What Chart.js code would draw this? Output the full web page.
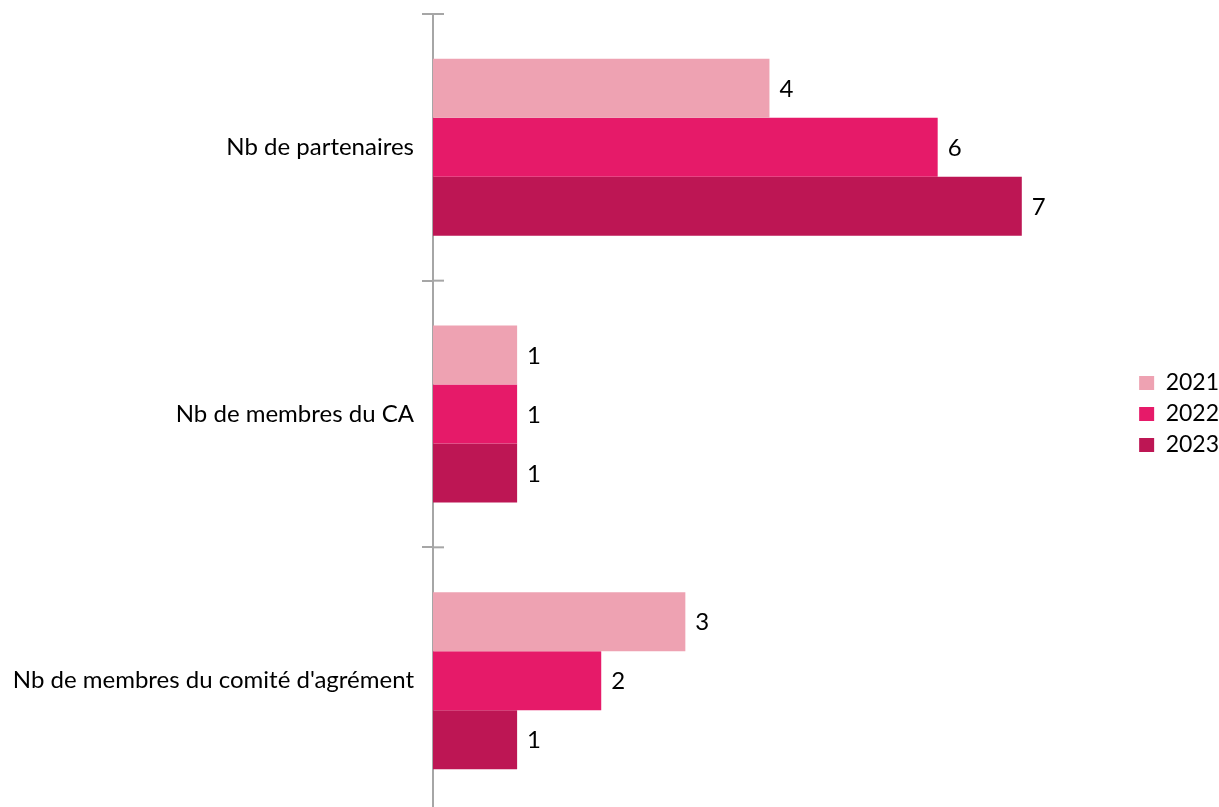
<!DOCTYPE html>
<html lang="fr">
<head>
  <meta charset="UTF-8">
  <title>Partenaires et membres</title>
  <script src="https://cdn.jsdelivr.net/npm/chart.js"></script>
  <style>
    html, body { margin: 0; padding: 0; background: #fff; overflow: hidden; }
    #cadre { position: relative; width: 1219px; height: 814px; }
  </style>
</head>
<body>
  <div id="cadre"><canvas id="grafica"></canvas></div>

  <script>
    // Données
    const categories = ["Nb de partenaires", "Nb de membres du CA", "Nb de membres du comité d'agrément"];
    const annees = ["2021", "2022", "2023"];
    const valeurs2021 = [4, 1, 3];
    const valeurs2022 = [6, 1, 2];
    const valeurs2023 = [7, 1, 1];
    const couleurs = ["#EEA2B2", "#E61A69", "#BD1654"];

    const police = "Lato, 'Open Sans', sans-serif";
    const gris = "#A6A6A6";

    // Étiquettes de valeur à droite des barres
    const etiquettes = {
      id: 'etiquettes',
      afterDatasetsDraw(chart) {
        const ctx = chart.ctx;
        ctx.save();
        ctx.font = "24px " + police;
        ctx.fillStyle = "#000";
        ctx.textBaseline = "middle";
        chart.data.datasets.forEach((ds, i) => {
          chart.getDatasetMeta(i).data.forEach((bar, j) => {
            ctx.fillText(ds.data[j], bar.x + 10, bar.y + 1);
          });
        });
        ctx.restore();
      }
    };

    // Petits traits qui croisent l'axe vertical
    const traits = {
      id: 'traits',
      afterDraw(chart) {
        const y = chart.scales.y;
        const ctx = chart.ctx;
        const x0 = chart.chartArea.left;
        const n = categories.length;
        ctx.save();
        ctx.strokeStyle = gris;
        ctx.lineWidth = 2;
        for (let i = 0; i <= n; i++) {
          const py = y.getPixelForValue(i - 0.5);
          ctx.beginPath();
          ctx.moveTo(x0, py);
          ctx.lineTo(x0 + 11, py);
          ctx.stroke();
        }
        ctx.restore();
      }
    };

    new Chart(document.getElementById("grafica"), {
      type: 'bar',
      data: {
        labels: categories,
        datasets: [
          { label: annees[0], data: valeurs2021, backgroundColor: couleurs[0] },
          { label: annees[1], data: valeurs2022, backgroundColor: couleurs[1] },
          { label: annees[2], data: valeurs2023, backgroundColor: couleurs[2] }
        ]
      },
      options: {
        indexAxis: 'y',
        responsive: true,
        maintainAspectRatio: false,
        animation: false,
        layout: { padding: { top: 14, left: 0, right: -10, bottom: 0 } },
        datasets: { bar: { categoryPercentage: 0.664, barPercentage: 1.0 } },
        scales: {
          x: { display: false, min: 0, max: 8.3 },
          y: {
            offset: true,
            border: { display: true, color: gris, width: 2 },
            grid: { offset: true, drawOnChartArea: false, drawTicks: true, tickLength: 11, color: gris, lineWidth: 2 },
            ticks: { color: "#000", padding: 8, font: { family: police, size: 24 } },
            // l'axe garde la place des libellés longs
            afterFit(scale) {
              scale.width = 433;
              scale.paddingTop = 0;
              scale.paddingBottom = 0;
            }
          }
        },
        plugins: {
          legend: {
            position: 'right',
            labels: { boxWidth: 15, boxHeight: 14, padding: 8, color: "#000", font: { family: police, size: 23 } }
          },
          tooltip: { enabled: false }
        }
      },
      plugins: [etiquettes, traits]
    });
  </script>
</body>
</html>
